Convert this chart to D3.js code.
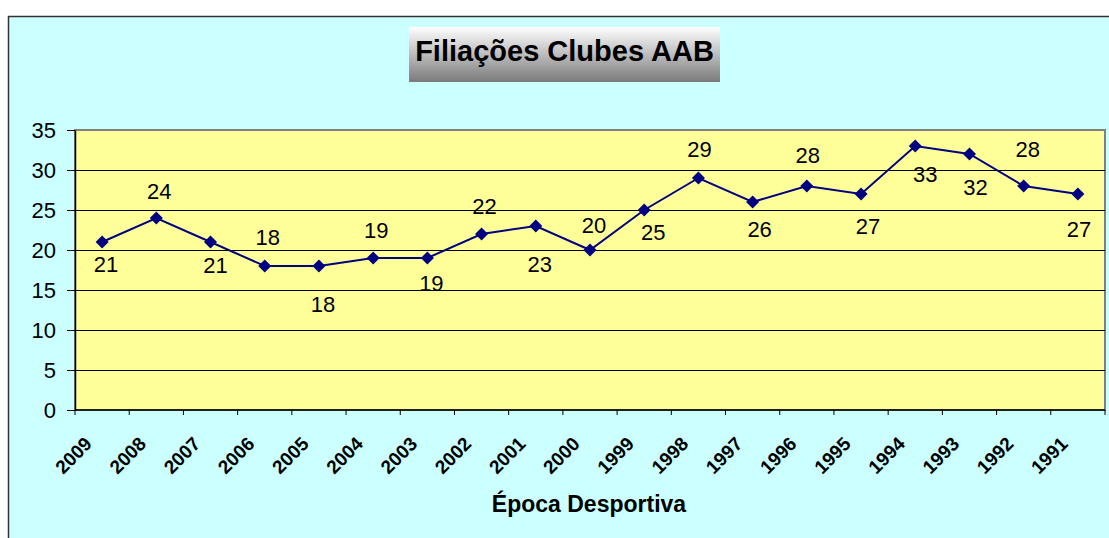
<!DOCTYPE html>
<html lang="pt">
<head>
<meta charset="UTF-8">
<title>Filiações Clubes AAB</title>
<script src="https://d3js.org/d3.v7.min.js"></script>
<style>
    body { margin: 0; background: #fff; font-family: "Liberation Sans", Arial, sans-serif; }
    svg { display: block; }
    svg text { font-family: "Liberation Sans", Arial, sans-serif; fill: #000; }
    .data-label { font-size: 22px; text-anchor: middle; }
</style>
</head>
<body>
<svg id="chart" width="1109" height="538"></svg>
<script>
    // Chart data
    const seasons = ["2009", "2008", "2007", "2006", "2005", "2004", "2003", "2002", "2001", "2000",
                     "1999", "1998", "1997", "1996", "1995", "1994", "1993", "1992", "1991"];
    const members = [21, 24, 21, 18, 18, 19, 19, 22, 23, 20, 25, 29, 26, 28, 27, 33, 32, 28, 27];
    const yTicks = [0, 5, 10, 15, 20, 25, 30, 35];

    // hand placed data labels (pixel offset from the marker, like the original)
    const labelDx = [4, 3, 5, 3, 4, 3, 4, 3, 4, 4, 9, 1, 7, 1, 7, 10, 6, 4, 1];
    const labelDy = [22, -27, 23, -29, 38, -28, 25, -28, 38, -25, 22, -29, 27, -31, 32, 28, 33, -37, 35];

    const svg = d3.select("#chart");
    const plot = { left: 75, right: 1105, top: 130, bottom: 410 };

    // outer chart area
    svg.append("rect")
        .attr("x", 8.5).attr("y", 16.5)
        .attr("width", 1200).attr("height", 600)
        .attr("fill", "#ccffff")
        .attr("stroke", "#333").attr("stroke-width", 1.5);

    // title box with gradient
    const defs = svg.append("defs");
    const grad = defs.append("linearGradient").attr("id", "titleGrad")
        .attr("x1", 0).attr("y1", 0).attr("x2", 0).attr("y2", 1);
    grad.append("stop").attr("offset", "0%").attr("stop-color", "#ffffff");
    grad.append("stop").attr("offset", "100%").attr("stop-color", "#7a7a7a");

    svg.append("rect")
        .attr("x", 409).attr("y", 27)
        .attr("width", 311).attr("height", 55)
        .attr("fill", "url(#titleGrad)");
    svg.append("text")
        .attr("x", 564.5).attr("y", 61)
        .attr("text-anchor", "middle")
        .style("font-size", "29px").style("font-weight", "bold")
        .text("Filiações Clubes AAB");

    // scales
    const x = d3.scaleBand().domain(seasons).range([plot.left, plot.right]);
    const y = d3.scaleLinear().domain([0, 35]).range([plot.bottom, plot.top]);

    // plot area
    svg.append("rect")
        .attr("x", plot.left).attr("y", plot.top)
        .attr("width", plot.right - plot.left).attr("height", plot.bottom - plot.top)
        .attr("fill", "#ffff99")
        .attr("stroke", "#808080").attr("stroke-width", 2);

    // gridlines
    svg.append("g").selectAll("line")
        .data(yTicks.filter(d => d > 0 && d < 35))
        .join("line")
        .attr("x1", plot.left).attr("x2", plot.right)
        .attr("y1", d => Math.round(y(d)) + 0.5).attr("y2", d => Math.round(y(d)) + 0.5)
        .attr("stroke", "#000").attr("stroke-width", 1);

    // y axis
    const yAxis = svg.append("g")
        .attr("transform", `translate(${plot.left},0)`)
        .call(d3.axisLeft(y).tickValues(yTicks).tickSize(8).tickPadding(11).tickSizeOuter(0));
    yAxis.select(".domain").attr("stroke", "#000").attr("stroke-width", 1.5);
    yAxis.selectAll("text").style("font-size", "22px");

    // x axis: ticks at category boundaries
    const xAxis = svg.append("g")
        .attr("transform", `translate(0,${plot.bottom})`);
    xAxis.append("line")
        .attr("x1", plot.left).attr("x2", plot.right)
        .attr("stroke", "#000").attr("stroke-width", 1.5);
    const bounds = seasons.map(s => x(s)).concat([x(seasons[seasons.length - 1]) + x.bandwidth()]);
    xAxis.selectAll(".xt").data(bounds).join("line")
        .attr("class", "xt")
        .attr("x1", d => d).attr("x2", d => d)
        .attr("y1", 0).attr("y2", 5)
        .attr("stroke", "#000");
    xAxis.selectAll(".xl").data(seasons).join("text")
        .attr("class", "xl")
        .attr("transform", d => `translate(${x(d) + x.bandwidth() / 2 - 9},${35}) rotate(-45)`)
        .attr("text-anchor", "end")
        .style("font-size", "19px").style("font-weight", "bold")
        .text(d => d);

    // axis title
    svg.append("text")
        .attr("x", 589).attr("y", 512)
        .attr("text-anchor", "middle")
        .style("font-size", "23px").style("font-weight", "bold")
        .text("Época Desportiva");

    // line
    const cx = (d, i) => x(seasons[i]) + x.bandwidth() / 2;
    svg.append("path")
        .datum(members)
        .attr("fill", "none")
        .attr("stroke", "#000080")
        .attr("stroke-width", 2)
        .attr("d", d3.line().x(cx).y(d => y(d)));

    // markers
    svg.append("g").selectAll("path")
        .data(members)
        .join("path")
        .attr("transform", (d, i) => `translate(${cx(d, i)},${y(d)})`)
        .attr("d", "M0,-6.5L6.5,0L0,6.5L-6.5,0Z")
        .attr("fill", "#000080");

    // data labels
    svg.append("g").selectAll("text")
        .data(members)
        .join("text")
        .attr("class", "data-label")
        .attr("x", (d, i) => cx(d, i) + labelDx[i])
        .attr("y", (d, i) => y(d) + labelDy[i])
        .attr("dy", "0.35em")
        .text(d => d);
</script>
</body>
</html>
